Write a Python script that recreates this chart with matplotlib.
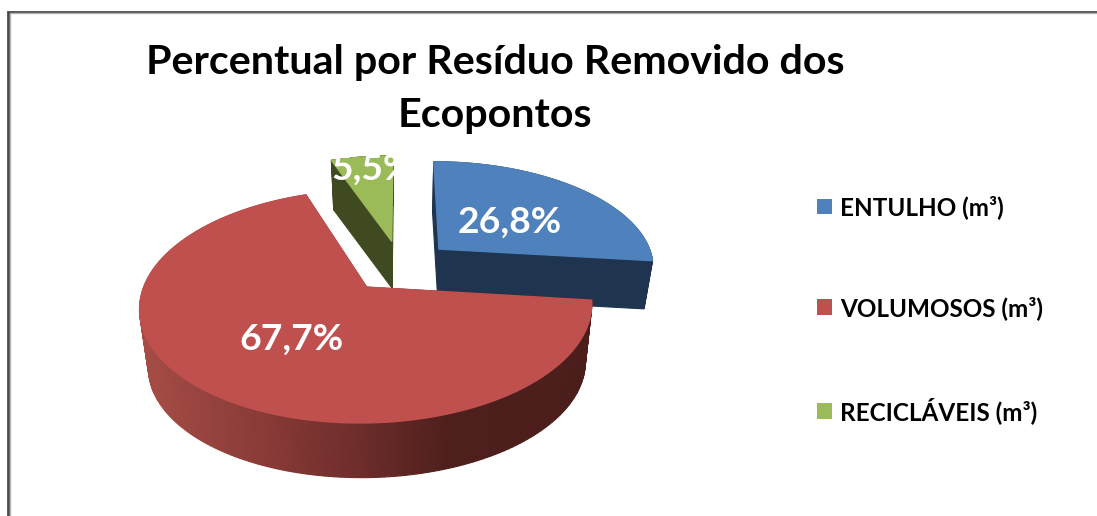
import numpy as np
import matplotlib
matplotlib.use("Agg")
import matplotlib.pyplot as plt
from matplotlib.patches import Polygon, Rectangle

categories = ["ENTULHO (m³)", "VOLUMOSOS (m³)", "RECICLÁVEIS (m³)"]
shares = [26.8, 67.7, 5.5]
value_labels = ["26,8%", "67,7%", "5,5%"]
title = "Percentual por Resíduo Removido dos\nEcopontos"

top_colors = ["#4f81bd", "#c0504d", "#9bbb59"]
side_colors = ["#1f344f", "#4c1e1b", "#3f4a20"]
depths = [48, 60, 46]
label_xy = [(510, 222), (291, 339), (373, 169)]

plt.rcParams["font.family"] = ["Lato", "DejaVu Sans"]
W, H = 1097, 516
fig = plt.figure(figsize=(W / 100, H / 100), dpi=100)
ax = fig.add_axes([0, 0, 1, 1])
ax.set_xlim(0, W)
ax.set_ylim(H, 0)
ax.axis("off")

# projection of the tilted pie
CX, CY, A, B, K, EXPLODE, SHRINK = 400.5, 266, 216, 106.4, 0.161, 0.245, 0.966


def project(u, v, depth=0.0):
    d = 1 - K * v
    x = A * u / d
    y = B * v / d
    if depth:
        x, y = x * SHRINK, y * SHRINK + depth
    return CX + x, CY + y


def wedge_points(t0, t1, ou, ov, n=200):
    t = np.linspace(t0, t1, n)
    return ou + np.sin(t), ov - np.cos(t)


def red_ramp(x):
    stops_x = [140, 250, 350, 450, 600]
    r = np.interp(x, stops_x, [0xa6, 0x8c, 0x70, 0x4e, 0x4c])
    g = np.interp(x, stops_x, [0x4c, 0x3c, 0x2e, 0x1f, 0x1e])
    b = np.interp(x, stops_x, [0x46, 0x38, 0x2c, 0x1c, 0x1b])
    return (r / 255, g / 255, b / 255)


fractions = np.array(shares) / sum(shares)
edges = np.concatenate([[0], np.cumsum(fractions)]) * 2 * np.pi
for i in (2, 0, 1):
    t0, t1 = edges[i], edges[i + 1]
    mid = (t0 + t1) / 2
    ou, ov = EXPLODE * np.sin(mid), -EXPLODE * np.cos(mid)
    us, vs = wedge_points(t0, t1, ou, ov)
    us_full = np.concatenate([[ou], us])
    vs_full = np.concatenate([[ov], vs])
    xt, yt = project(us_full, vs_full)
    xb, yb = project(us_full, vs_full, depths[i])
    # radial faces and the outer wall are swept from top to bottom outline
    n = len(xt)
    order = list(range(n)) + [0]
    for a, b in zip(order[:-1], order[1:]):
        quad = [(xt[a], yt[a]), (xt[b], yt[b]), (xb[b], yb[b]), (xb[a], yb[a])]
        midx = (xt[a] + xt[b]) / 2
        col = red_ramp(midx) if (i == 1 and a > 0 and b > 0) else side_colors[i]
        ax.add_patch(Polygon(quad, closed=True, facecolor=col, edgecolor=col, lw=0.8, zorder=2))
    ax.add_patch(Polygon(np.column_stack([xt, yt]), closed=True, facecolor=top_colors[i],
                         edgecolor=top_colors[i], lw=1.0, zorder=2))

for i, (lx, ly) in enumerate(label_xy):
    ax.text(lx, ly, value_labels[i], color="white", fontsize=26.8, fontweight="bold",
            ha="center", va="center", zorder=5)

ax.text(495, 89, title, ha="center", va="center", fontsize=29.7, fontweight="bold",
        color="black", linespacing=1.53, zorder=5)

handles = [Rectangle((0, 0), 1, 1, facecolor=c, edgecolor="none") for c in top_colors]
ax.legend(handles, categories, loc="upper left", bbox_to_anchor=(817, 195),
          bbox_transform=ax.transData, frameon=False,
          prop={"size": 17.5, "weight": "bold"},
          handlelength=0.62, handleheight=0.62, handletextpad=0.32, labelspacing=3.17,
          borderpad=0, borderaxespad=0)

# chart frame
ax.plot([8, 8, W], [H, 11.5, 11.5], color="#4a4a4a", lw=2.0, solid_joinstyle="miter", zorder=6)
ax.plot([10, 10, W], [H, 13.2, 13.2], color="#b5b5b5", lw=1.0, solid_joinstyle="miter", zorder=6)

fig.savefig("out.png", dpi=100, facecolor="white")
